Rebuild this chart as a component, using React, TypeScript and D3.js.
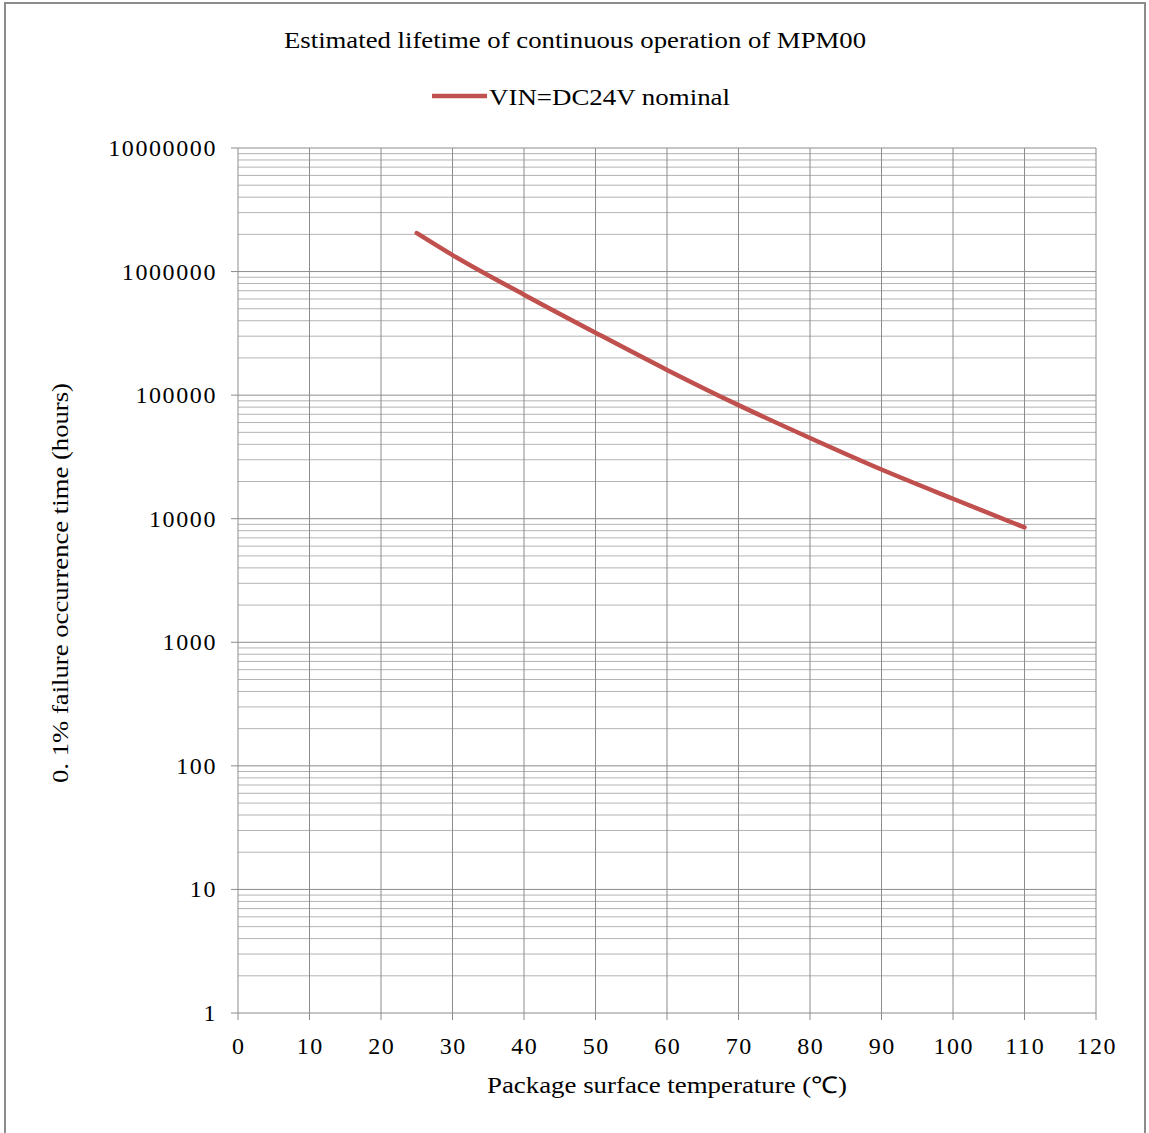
import React from "react";
import * as d3 from "d3";

const temps = [25, 30, 40, 50, 60, 70, 80, 90, 100, 110];
const hours = [2050000, 1360000, 650000, 320000, 160000, 83000, 45000, 25000, 14500, 8500];
const xTicks = [0, 10, 20, 30, 40, 50, 60, 70, 80, 90, 100, 110, 120];
const yTicks = [1, 10, 100, 1000, 10000, 100000, 1000000, 10000000];
const title = "Estimated lifetime of continuous operation of MPM00";
const seriesName = "VIN=DC24V nominal";
const xTitle = "Package surface temperature (℃)";
const yTitle = "0. 1% failure occurrence time (hours)";

const W = 1149, H = 1133;
const left = 238, right = 1096, top = 148, bottom = 1013;
const FONT = "Liberation Serif, Tinos, Times New Roman, Times, serif";

export default function App() {
  const x = d3.scaleLinear().domain([0, 120]).range([left, right]);
  const y = d3.scaleLog().domain([1, 10000000]).range([bottom, top]);
  const minors: number[] = [];
  for (let d = 0; d < 7; d++) for (let k = 2; k <= 9; k++) minors.push(k * Math.pow(10, d));
  const line = d3.line<number>().x((_, i) => x(temps[i])).y((v) => y(v)).curve(d3.curveMonotoneX);
  const c = "#C0504D";
  const ts = { fontFamily: FONT };
  return (
    <svg width={W} height={H} style={{ position: "absolute", left: 0, top: 0, background: "#fff" }}>
      <rect x={5} y={3} width={1140} height={1140} fill="none" stroke="#8c8c8c" strokeWidth={2} />
      <text style={ts} x={575} y={48} textAnchor="middle" fontSize={23} textLength={582} lengthAdjust="spacingAndGlyphs">{title}</text>
      <line x1={432} x2={487} y1={96} y2={96} stroke={c} strokeWidth={4.5} />
      <text style={ts} x={489} y={105} fontSize={23} textLength={241} lengthAdjust="spacingAndGlyphs">{seriesName}</text>
      {minors.map((v) => (
        <line key={"m" + v} x1={left} x2={right} y1={y(v)} y2={y(v)} stroke="#b3b3b3" strokeWidth={1} />
      ))}
      {yTicks.map((v) => (
        <line key={"y" + v} x1={left - 7} x2={right} y1={y(v)} y2={y(v)} stroke="#8c8c8c" strokeWidth={1} />
      ))}
      {xTicks.map((v) => (
        <line key={"x" + v} x1={x(v)} x2={x(v)} y1={top} y2={bottom + 7} stroke="#8c8c8c" strokeWidth={1} />
      ))}
      {yTicks.map((v) => (
        <text style={ts} key={"yl" + v} x={217} y={y(v) + 8} textAnchor="end" fontSize={24} letterSpacing={1.6}>{String(v)}</text>
      ))}
      {xTicks.map((v) => (
        <text style={ts} key={"xl" + v} x={x(v) + 0.8} y={1054} textAnchor="middle" fontSize={24} letterSpacing={1.6}>{String(v)}</text>
      ))}
      <text style={ts} x={667} y={1093} textAnchor="middle" fontSize={23} textLength={360} lengthAdjust="spacingAndGlyphs">{xTitle}</text>
      <text style={ts} transform="translate(68,583) rotate(-90)" textAnchor="middle" fontSize={23} textLength={400} lengthAdjust="spacingAndGlyphs">{yTitle}</text>
      <path d={line(hours) || ""} fill="none" stroke={c} strokeWidth={4.5} strokeLinecap="round" />
    </svg>
  );
}
